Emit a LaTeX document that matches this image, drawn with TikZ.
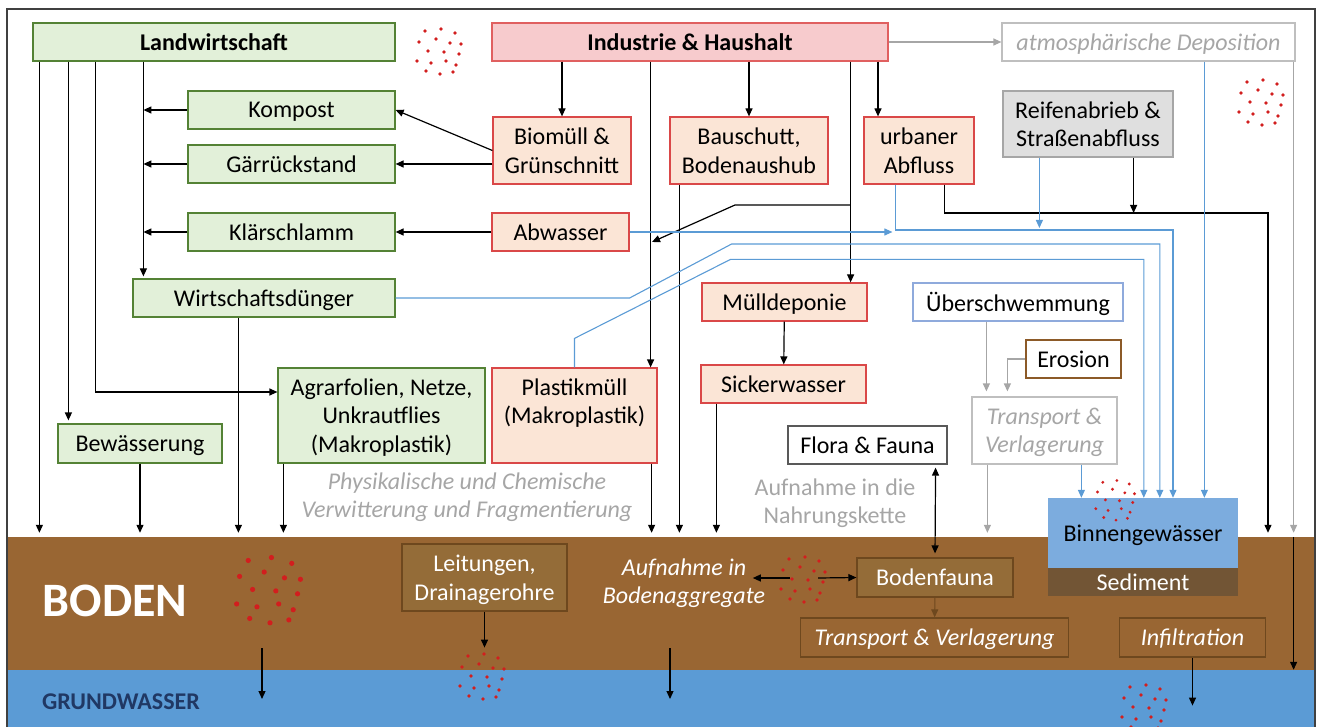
\documentclass[tikz,border=0pt]{standalone}
\usepackage{fontspec}
\setmainfont{Carlito}
\usetikzlibrary{arrows.meta}
\usetikzlibrary{positioning}

\definecolor{agrfill}{RGB}{226,240,217}
\definecolor{agrline}{RGB}{84,130,53}
\definecolor{indfill}{RGB}{247,203,205}
\definecolor{indline}{RGB}{224,96,96}
\definecolor{srcfill}{RGB}{251,229,214}
\definecolor{srcline}{RGB}{218,72,72}
\definecolor{reifill}{RGB}{223,223,223}
\definecolor{hellgrau}{RGB}{166,166,166}
\definecolor{rahmengrau}{RGB}{191,191,191}
\definecolor{flutblau}{RGB}{143,170,220}
\definecolor{erosionbraun}{RGB}{140,90,40}
\definecolor{bodenbraun}{RGB}{153,102,51}
\definecolor{bodenkasten}{RGB}{148,108,56}
\definecolor{bodenlinie}{RGB}{110,72,30}
\definecolor{gwblau}{RGB}{91,155,213}
\definecolor{gwtext}{RGB}{32,56,100}
\definecolor{seeblau}{RGB}{124,172,222}
\definecolor{sedimentbraun}{RGB}{114,85,53}
\definecolor{linienblau}{RGB}{91,155,213}
\definecolor{mprot}{RGB}{210,30,30}

\newcommand{\grundschrift}{\fontsize{24}{28.5}\selectfont}
% Mikroplastik-Punktwolke: Mitte, Skalierung
\newcommand{\mpwolke}[2]{%
  \begin{scope}[shift={(#1)}, scale=#2]
    \foreach \dx/\dy in {-15/-19, 1/-21, 15/-17, -21/-8, -4/-11, 10/-7, 21/-6,
        -12/1, 4/2, 19/4, -23/11, -9/13, 6/11, 16/15, -14/21, 0/24, 13/22}
      \fill[mprot] (\dx,\dy) circle[radius=1.8pt];
  \end{scope}}

\begin{document}
\begin{tikzpicture}[
    x=1pt, y=-1pt,
    font=\grundschrift,
    agrbox/.style={
        rectangle,
        draw=agrline,
        fill=agrfill,
        line width=1.2pt,
        align=center,
        text depth=0pt,
        inner sep=0pt
    },
    indbox/.style={
        rectangle,
        draw=indline,
        fill=indfill,
        line width=1.2pt,
        align=center,
        text depth=0pt,
        inner sep=0pt
    },
    quelle/.style={
        rectangle,
        draw=srcline,
        fill=srcfill,
        line width=1.2pt,
        align=center,
        text depth=0pt,
        inner sep=0pt
    },
    weissbox/.style={
        rectangle,
        fill=white,
        line width=1.2pt,
        align=center,
        text depth=0pt,
        inner sep=0pt
    },
    bodenbox/.style={
        rectangle,
        draw=bodenlinie,
        text=white,
        line width=1.2pt,
        align=center,
        text depth=0pt,
        inner sep=0pt
    },
    arr/.style={-{Triangle[length=8pt,width=7pt]}, line width=1.2pt},
    blau/.style={arr, draw=linienblau, line width=1.1pt},
    grau/.style={arr, draw=hellgrau}
]
    \useasboundingbox (0,0) rectangle (1320,727);

    % Boden und Grundwasser
    \node (boden) [fill=bodenbraun, minimum width=1306, minimum height=133, inner sep=0pt] at (661,603.5) {};
    \node (gw) [fill=gwblau, minimum width=1306, minimum height=58, inner sep=0pt] at (661,699) {};
    \draw[line width=1.5pt, black!75] (7,727) |- (1315,9) -- (1315,727);
    \node (bodentext) [text=white, font=\fontsize{48}{52}\selectfont\bfseries] at (115,601) {BODEN};
    \node (gwtext) [text=gwtext, font=\fontsize{24}{28}\selectfont\bfseries] at (121,702) {GRUNDWASSER};

    % Quellen
    \node (lw) [agrbox, minimum width=362, minimum height=38] at (214,42) {\textbf{Landwirtschaft}};
    \node (ind) [indbox, minimum width=396, minimum height=38] at (690,42) {\textbf{Industrie \& Haushalt}};
    \node (dep) [weissbox, draw=rahmengrau, text=hellgrau, font=\grundschrift\itshape, minimum width=293, minimum height=38] at (1148.5,42) {atmosphärische Deposition};

    \node (kompost) [agrbox, minimum width=207, minimum height=38] at (291.5,110) {Kompost};
    \node (gaer) [agrbox, minimum width=207, minimum height=38] at (291.5,164) {Gärrückstand};
    \node (klaer) [agrbox, minimum width=207, minimum height=38] at (291.5,232) {Klärschlamm};
    \node (wdung) [agrbox, minimum width=262, minimum height=38] at (264,298) {Wirtschaftsdünger};
    \node (bew) [agrbox, minimum width=164, minimum height=39] at (140,443.5) {Bewässerung};
    \node (agrar) [agrbox, minimum width=207, minimum height=95] at (381.5,415.5) {Agrarfolien, Netze,\\Unkrautflies\\(Makroplastik)};

    \node (bio) [quelle, minimum width=138, minimum height=67] at (562,150.5) {Biomüll \&\\Grünschnitt};
    \node (bau) [quelle, minimum width=158, minimum height=67] at (749,150.5) {Bauschutt,\\Bodenaushub};
    \node (urb) [quelle, minimum width=110, minimum height=67] at (919,150.5) {urbaner\\Abfluss};
    \node (abw) [quelle, minimum width=137, minimum height=38] at (560.5,232) {Abwasser};
    \node (plast) [quelle, minimum width=165, minimum height=95] at (574.5,415.5) {Plastikmüll\\(Makroplastik)\\~};
    \node (muell) [quelle, minimum width=165, minimum height=38] at (784.5,302) {Mülldeponie};
    \node (sick) [quelle, minimum width=165, minimum height=38] at (783.5,384) {Sickerwasser};
    \node (reifen) [rectangle, draw=hellgrau, fill=reifill, line width=1.2pt, align=center, text depth=0pt, inner sep=0pt, minimum width=170, minimum height=66] at (1088,124) {Reifenabrieb \&\\Straßenabfluss};

    \node (ueber) [weissbox, draw=flutblau, minimum width=210, minimum height=38] at (1018,302) {Überschwemmung};
    \node (ero) [weissbox, draw=erosionbraun, minimum width=95, minimum height=38] at (1073.5,359) {Erosion};
    \node (trg) [weissbox, draw=rahmengrau, text=hellgrau, font=\grundschrift\itshape, minimum width=145, minimum height=67] at (1044.5,430.5) {Transport \&\\Verlagerung};
    \node (flora) [weissbox, draw=black!65, minimum width=159, minimum height=38] at (867.5,445) {Flora \& Fauna};

    \node (verw) [align=center, text=hellgrau, font=\grundschrift\itshape] at (467,497) {Physikalische und Chemische\\Verwitterung und Fragmentierung};
    \node (nahrung) [align=center, text=hellgrau] at (835,503) {Aufnahme in die\\Nahrungskette};

    % Gewaesser
    \node (binnen) [fill=seeblau, minimum width=190, minimum height=70, text depth=0pt, inner sep=0pt] at (1143,533) {Binnengewässer};
    \node (sed) [fill=sedimentbraun, text=white, minimum width=190, minimum height=28, inner sep=0pt] at (1143,582) {Sediment};

    % im Boden
    \node (lei) [bodenbox, fill=bodenkasten, minimum width=165, minimum height=67] at (484.5,577.5) {Leitungen,\\Drainagerohre};
    \node (agg) [align=center, text=white, font=\grundschrift\itshape] at (684,583) {Aufnahme in\\Bodenaggregate};
    \node (aggdots) [minimum width=28, minimum height=40, inner sep=0pt] at (804,578) {};
    \node (fauna) [bodenbox, fill=bodenkasten, minimum width=156, minimum height=39] at (935,577.5) {Bodenfauna};
    \node (trb) [bodenbox, fill=bodenbraun, font=\grundschrift\itshape, minimum width=268, minimum height=39] at (934.5,637.5) {Transport \& Verlagerung};
    \node (inf) [bodenbox, fill=bodenbraun, font=\grundschrift\itshape, minimum width=146, minimum height=39] at (1192.5,637.5) {Infiltration};

    % Hilfspunkte
    \coordinate (lwa) at ([xshift=7pt]lw.south west);
    \coordinate (lwb) at ([xshift=36pt]lw.south west);
    \coordinate (lwc) at ([xshift=63pt]lw.south west);
    \coordinate (lwx) at ([xshift=111pt]lw.south west);
    \coordinate (wdab) at ([xshift=106pt]wdung.south west);
    \coordinate (agrab) at ([xshift=6pt]agrar.south west);
    \coordinate (urbin) at ([xshift=-41pt]urb.north);
    \coordinate (plin) at ([xshift=-7pt]plast.north east);
    \coordinate (muin) at ([xshift=-17pt]muell.north east);
    \coordinate (bauab) at ([xshift=10pt]bau.south west);
    \coordinate (plab) at ([xshift=-6pt]plast.south east);
    \coordinate (sickab) at ([xshift=16pt]sick.south west);
    \coordinate (urbab) at ([xshift=-30pt]urb.south east);
    \coordinate (urbbl) at ([xshift=32pt]urb.south west);
    \coordinate (reifab) at ([xshift=-40pt]reifen.south east);
    \coordinate (reifbl) at ([xshift=37pt]reifen.south west);
    \coordinate (depbl) at ([xshift=203pt]dep.south west);
    \coordinate (depx) at ([xshift=-2pt]dep.south east);
    \coordinate (trgbl) at ([xshift=110pt]trg.south west);
    \coordinate (trgab) at ([xshift=16pt]trg.south west);
    \coordinate (ueberab) at ([xshift=74pt]ueber.south west);
    \coordinate (florab) at ([xshift=-12pt]flora.south east);
    \coordinate (abzw) at (850,205);
    \coordinate (urbschwarz) at (1268,213);
    \coordinate (urbblau) at (1173,230);
    \coordinate (bodenl) at (262,648);
    \coordinate (bodenm) at (670,648);

    % Landwirtschaft
    \draw[arr, shorten >=4pt] (lwa) -- (lwa |- boden.north);
    \draw[arr, shorten >=3pt] (lwb) -- (lwb |- bew.north);
    \draw[arr] (lwc) |- ([yshift=23.5pt]agrar.west);
    \draw[arr, shorten >=2pt] (lwx) -- (lwx |- wdung.north);
    \draw[arr] (kompost) -- (kompost -| lwx);
    \draw[arr] (gaer) -- (gaer -| lwx);
    \draw[arr] (klaer) -- (klaer -| lwx);
    \draw[arr, shorten >=4pt] (bew.south) -- (bew.south |- boden.north);
    \draw[arr, shorten >=4pt] (wdab) -- (wdab |- boden.north);
    \draw[arr, shorten >=4pt] (agrab) -- (agrab |- boden.north);

    % Industrie & Haushalt
    \draw[grau] (ind) -- (dep);
    \draw[arr] (ind.south -| bio.north) -- (bio.north);
    \draw[arr] (ind.south -| bau.north) -- (bau.north);
    \draw[arr] (ind.south -| urbin) -- (urbin);
    \draw[arr] (ind.south -| plin) -- (plin);
    \draw[arr] (ind.south -| muin) -- (muin);
    \draw[arr] (abzw) -- ++(-115,0) -- ++(-83,37);
    \draw[arr] (bio.west) -- (kompost.east);
    \draw[arr] (gaer.east -| bio.west) -- (gaer.east);
    \draw[arr] (abw) -- (klaer);
    \draw[arr] (muell) -- (sick);
    \draw[arr, shorten >=4pt] (bauab) -- (bauab |- boden.north);
    \draw[arr, shorten >=4pt] (plab) -- (plab |- boden.north);
    \draw[arr, shorten >=4pt] (sickab) -- (sickab |- boden.north);
    \draw[arr, shorten >=4pt] (urbab) |- (urbschwarz) -- (urbschwarz |- boden.north);
    \draw[arr] (reifab) -- (reifab |- urbschwarz);

    % Eintraege in Binnengewaesser
    \draw[blau, shorten >=3pt] (abw.east) -- (abw.east -| urbbl);
    \draw[blau] (urbbl) |- (urbblau) -- (urbblau |- binnen.north);
    \draw[blau, shorten >=2pt] (reifbl) -- (reifbl |- urbblau);
    \draw[blau] (wdung.east) -- ++(234,0) -- ++(102,-54) -| ([xshift=112pt]binnen.north west);
    \draw[blau] (plast.north) -- ++(0,-29) -- ++(156,-79) -| ([xshift=96pt]binnen.north west);
    \draw[blau] (depbl) -- (depbl |- binnen.north);
    \draw[blau] (trgbl) -- (trgbl |- binnen.north);
    \draw[grau, shorten >=4pt] (depx) -- (depx |- boden.north);
    \draw[arr] (depx |- boden.north) -- (depx |- gw.north);

    % Ueberschwemmung, Erosion
    \draw[grau, shorten >=5pt] (ueberab) -- (ueberab |- trg.north);
    \draw[grau, shorten >=5pt] (ero.west) -| ([xshift=36pt]trg.north west);
    \draw[grau, shorten >=4pt] (trgab) -- (trgab |- boden.north);
    \draw[{Triangle[length=8pt,width=7pt]}-{Triangle[length=8pt,width=7pt]}, line width=1.2pt, shorten <=3pt, shorten >=4pt] (florab) -- (fauna.north);

    % im Boden
    \draw[arr] (lei.south) -- ++(0,36);
    \draw[arr] (aggdots.west) -- ++(-37,0);
    \draw[arr] (aggdots.east) -- (fauna.west);
    \draw[arr, draw=bodenlinie, line width=1pt] (fauna) -- (trb);
    \draw[arr] (inf.south) -- ++(0,48);
    \draw[arr] (bodenl) -- ++(0,51);
    \draw[arr] (bodenm) -- ++(0,51);

    % Mikroplastik
    \mpwolke{440,50}{1}
    \mpwolke{1262,101}{1}
    \mpwolke{1116,499}{0.88}
    \mpwolke{270,588}{1.45}
    \mpwolke{483,675}{1}
    \mpwolke{804,578}{1}
    \mpwolke{1145,706}{1}
\end{tikzpicture}
\end{document}
